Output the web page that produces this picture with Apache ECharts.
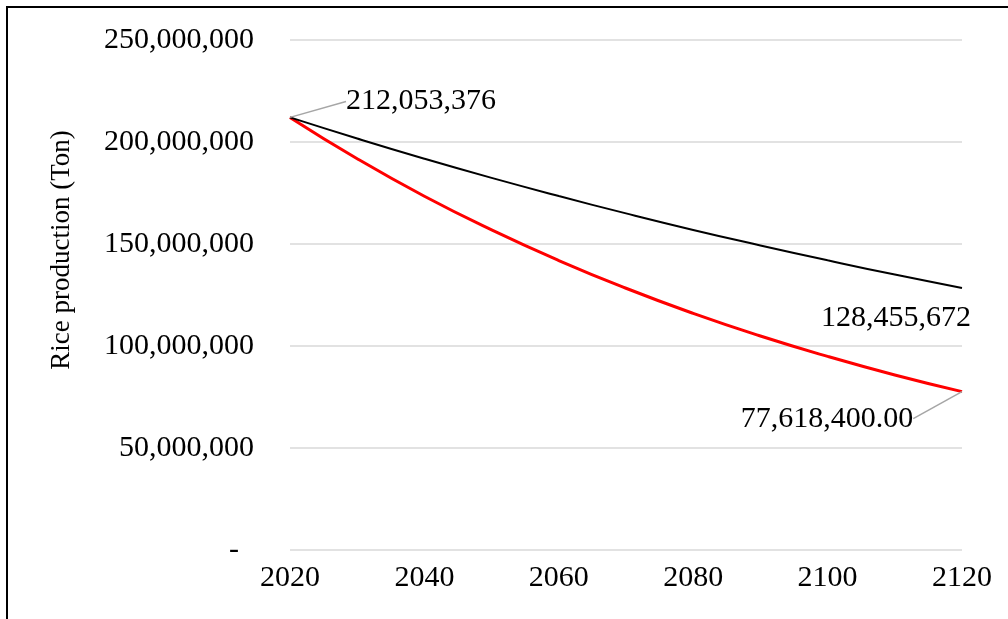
<!DOCTYPE html>
<html>
<head>
<meta charset="utf-8">
<script src="https://cdn.jsdelivr.net/npm/echarts@6/dist/echarts.min.js"></script>
<style>
  html, body { margin: 0; padding: 0; background: #fff; }
</style>
</head>
<body>
<div id="main" style="width: 1008px; height: 619px"></div>
<script>
// 读图得到的数据 (每10年一个点)
const years = [2020, 2030, 2040, 2050, 2060, 2070, 2080, 2090, 2100, 2110, 2120];
const blackLine = [212053376, 201700000, 191800000, 182400000, 173500000, 165000000, 156900000, 149300000, 142000000, 135000000, 128455672];
const redLine = [212053376, 191800000, 173400000, 156900000, 141900000, 128300000, 116000000, 104900000, 94900000, 85800000, 77618400];
const xTicks = [2020, 2040, 2060, 2080, 2100, 2120];
const yAxisTitle = 'Rice production (Ton)';

const FONT = "'Liberation Serif', 'Times New Roman', serif";

function fmt(v) {
  return String(Math.round(v)).replace(/\B(?=(\d{3})+(?!\d))/g, ',');
}

function buildData(values, labels) {
  return values.map(function (v, i) {
    const item = {value: [years[i], v]};
    if (labels[i]) {
      item.label = Object.assign({show: true}, labels[i].label);
      item.labelLine = labels[i].labelLine;
    }
    return item;
  });
}

const labelStyle = {
  color: '#000',
  fontFamily: FONT,
  fontSize: 30,
  position: 'inside'
};
const guide = {show: true, lineStyle: {color: '#a6a6a6', width: 1.5}};

const blackData = buildData(blackLine, {
  0: {
    label: Object.assign({}, labelStyle, {padding: [0, 0, 0, 14], formatter: function (p) { return fmt(p.value[1]); }}),
    labelLine: guide
  },
  10: {
    label: Object.assign({}, labelStyle, {formatter: function (p) { return fmt(p.value[1]); }}),
    labelLine: {show: false}
  }
});
const redData = buildData(redLine, {
  10: {
    label: Object.assign({}, labelStyle, {padding: [0, 14, 0, 0], formatter: function (p) { return fmt(p.value[1]) + '.00'; }}),
    labelLine: guide
  }
});

const myChart = echarts.init(document.getElementById('main'));
const option = {
  animation: false,
  backgroundColor: '#fff',
  grid: {left: 290, right: 46, top: 40, bottom: 69, containLabel: false},
  xAxis: {
    type: 'value',
    min: 2020,
    max: 2120,
    interval: 20,
    axisLine: {show: false},
    axisTick: {show: false},
    splitLine: {show: false},
    axisLabel: {
      color: '#000',
      fontFamily: FONT,
      fontSize: 30,
      margin: 13,
      formatter: function (v) { return xTicks.indexOf(v) >= 0 ? String(v) : ''; }
    }
  },
  yAxis: {
    type: 'value',
    min: 0,
    max: 250000000,
    interval: 50000000,
    axisLine: {show: false},
    axisTick: {show: false},
    splitLine: {lineStyle: {color: '#d9d9d9', width: 1.5}},
    axisLabel: {
      color: '#000',
      fontFamily: FONT,
      fontSize: 30,
      margin: 36,
      formatter: function (v) { return v === 0 ? '-  ' : fmt(v); }
    }
  },
  graphic: [
    {
      type: 'rect',
      shape: {x: 7, y: 7, width: 1100, height: 700},
      style: {fill: 'none', stroke: '#000', lineWidth: 2},
      silent: true
    },
    {
      type: 'text',
      x: 62,
      y: 250,
      rotation: Math.PI / 2,
      style: {
        text: yAxisTitle,
        fill: '#000',
        font: '27px ' + FONT,
        align: 'center',
        verticalAlign: 'middle'
      }
    }
  ],
  series: [
    {
      name: 'black',
      type: 'line',
      smooth: true,
      symbol: 'circle',
      symbolSize: 0.1,
      showSymbol: true,
      z: 3,
      itemStyle: {color: '#000'},
      lineStyle: {color: '#000', width: 2},
      data: blackData,
      labelLayout: function (params) {
        if (params.dataIndex === 0) {
          return {dx: 124, dy: -16};
        }
        return {dx: -66, dy: 30};
      }
    },
    {
      name: 'red',
      type: 'line',
      smooth: true,
      symbol: 'circle',
      symbolSize: 0.1,
      showSymbol: true,
      z: 2,
      itemStyle: {color: '#ff0000'},
      lineStyle: {color: '#ff0000', width: 3},
      data: redData,
      labelLayout: function () {
        return {dx: -128, dy: 27};
      }
    }
  ]
};
myChart.setOption(option);
</script>
</body>
</html>
